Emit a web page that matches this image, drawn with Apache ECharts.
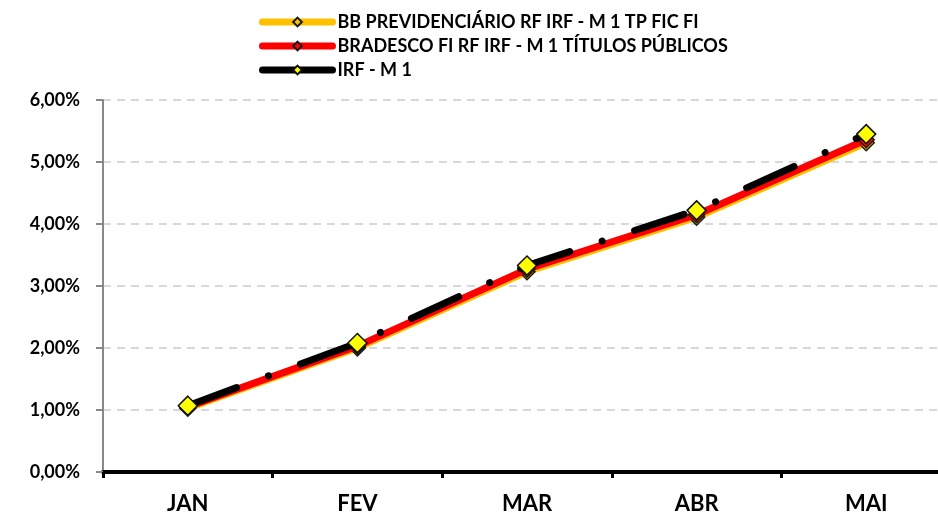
<!DOCTYPE html>
<html>
<head>
<meta charset="utf-8">
<script src="https://cdn.jsdelivr.net/npm/echarts@6/dist/echarts.min.js"></script>
<style>
  html, body { margin: 0; padding: 0; background: #fff; }
  #chart1 { width: 938px; height: 519px; }
</style>
</head>
<body>
<div id="chart1"></div>
<script>
var months = ['JAN', 'FEV', 'MAR', 'ABR', 'MAI'];
var bbPrev = [1.03, 2.00, 3.23, 4.11, 5.31];
var bradesco = [1.05, 2.03, 3.27, 4.15, 5.36];
var irfM1 = [1.07, 2.08, 3.33, 4.22, 5.45];
var seriesNames = [
    'BB PREVIDENCIÁRIO RF IRF - M 1 TP FIC FI',
    'BRADESCO FI RF IRF - M 1 TÍTULOS PÚBLICOS',
    'IRF - M 1'
];

chart1();

function chart1() {
    var dom = document.getElementById('chart1');
    var myChart = echarts.init(dom);
    var font = 'Lato';

    var option = {
        animation: false,
        legend: {
            orient: 'vertical',
            left: 259,
            top: 13,
            padding: 0,
            itemWidth: 70,
            itemHeight: 11,
            itemGap: 6,
            textStyle: { fontFamily: font, fontWeight: 'bold', fontSize: 18, color: '#000' },
            data: [
                { name: seriesNames[0], lineStyle: { width: 7, color: '#ffc000', cap: 'round' } },
                { name: seriesNames[1], lineStyle: { width: 7, color: '#ff0000', cap: 'round' } },
                { name: seriesNames[2], lineStyle: { width: 7, color: '#000', type: 'solid', cap: 'round' } }
            ]
        },
        grid: {
            left: 103,
            width: 848,
            top: 100,
            bottom: 47,
            containLabel: false,
            outerBoundsMode: 'none'
        },
        xAxis: {
            type: 'category',
            data: months,
            boundaryGap: true,
            axisLine: { lineStyle: { color: '#000', width: 4 } },
            axisTick: { show: true, length: 6, lineStyle: { color: '#000', width: 3 } },
            axisLabel: {
                margin: 21,
                fontFamily: font, fontWeight: 'bold', fontSize: 22, color: '#000'
            }
        },
        yAxis: {
            type: 'value',
            min: 0,
            max: 6,
            interval: 1,
            axisLine: { show: true, lineStyle: { color: '#888', width: 2 } },
            axisTick: { show: true, length: 7, lineStyle: { color: '#888', width: 2 } },
            axisLabel: {
                margin: 23,
                fontFamily: font, fontWeight: 'bold', fontSize: 18, color: '#000',
                formatter: function (v) { return v.toFixed(2).replace('.', ',') + '%'; }
            },
            splitLine: { lineStyle: { color: '#ccc', type: [8, 6], width: 1.5 } }
        },
        series: [
            {
                name: seriesNames[0],
                type: 'line',
                data: bbPrev,
                symbol: 'diamond',
                symbolSize: 16,
                itemStyle: { color: '#ffc000', borderColor: '#1a1a1a', borderWidth: 1.5 },
                lineStyle: { color: '#ffc000', width: 7 },
                z: 2
            },
            {
                name: seriesNames[1],
                type: 'line',
                data: bradesco,
                symbol: 'diamond',
                symbolSize: 16,
                itemStyle: { color: '#ff0000', borderColor: '#1a1a1a', borderWidth: 1.5 },
                lineStyle: { color: '#ff0000', width: 7 },
                z: 3
            },
            {
                name: seriesNames[2],
                type: 'line',
                data: irfM1,
                symbol: 'diamond',
                symbolSize: 19,
                itemStyle: { color: '#ffff00', borderColor: '#111', borderWidth: 1.5 },
                lineStyle: { color: '#000', width: 7, type: [52, 34, 0.1, 34], cap: 'round', dashOffset: 0 },
                z: 4
            }
        ]
    };

    myChart.setOption(option);
    window.addEventListener('resize', myChart.resize);
}
</script>
</body>
</html>
